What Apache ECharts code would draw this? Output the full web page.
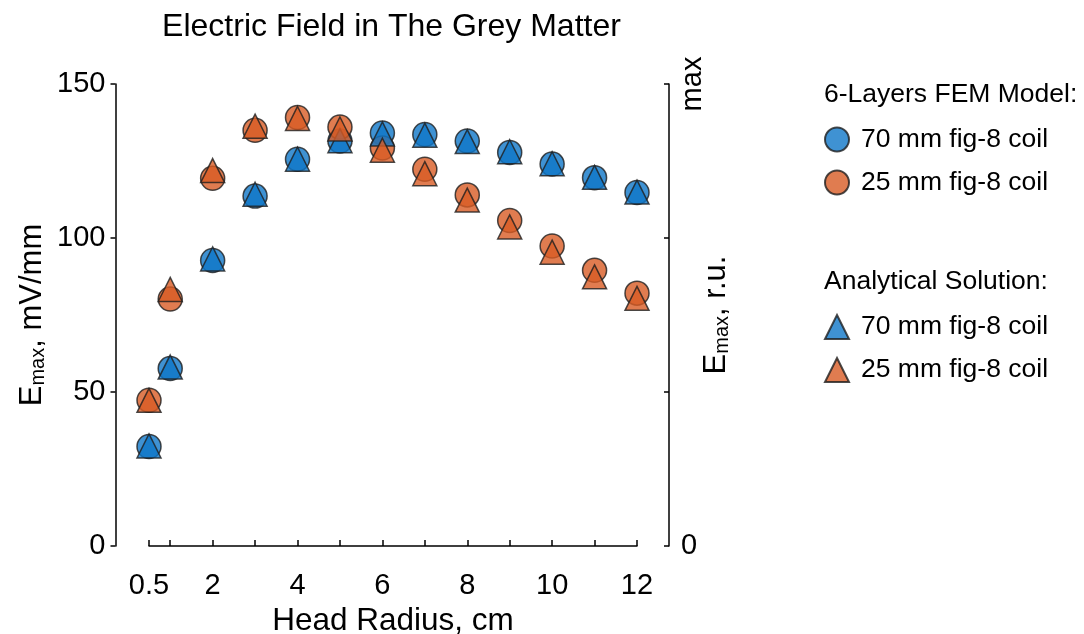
<!DOCTYPE html>
<html>
<head>
<meta charset="utf-8">
<script src="https://cdn.jsdelivr.net/npm/echarts@6/dist/echarts.min.js"></script>
<style>html,body{margin:0;padding:0;background:#fff}#c{width:1084px;height:634px}</style>
</head>
<body>
<div id="c"></div>
<script>
// Head radius (cm)
const radius = [0.5, 1, 2, 3, 4, 5, 6, 7, 8, 9, 10, 11, 12];
// 6-Layers FEM Model, Emax (mV/mm)
const fem70 = [32.3, 57.6, 92.7, 113.6, 125.6, 131.5, 134.1, 133.6, 131.5, 127.8, 124.0, 119.6, 114.8];
const fem25 = [47.3, 80.2, 119.4, 135.0, 139.1, 136.0, 129.2, 122.3, 114.0, 105.7, 97.4, 89.5, 82.1];
// Analytical solution, Emax (mV/mm)
const ana70 = [32.5, 58.1, 93.2, 114.2, 125.6, 131.6, 133.8, 133.4, 131.3, 128.0, 124.1, 119.7, 114.9];
const ana25 = [47.3, 83.3, 121.9, 136.3, 138.8, 135.4, 128.5, 120.9, 112.3, 103.6, 95.4, 87.4, 80.4];
// Tick values / labels
const xTicks = [0.5, 1, 2, 3, 4, 5, 6, 7, 8, 9, 10, 11, 12];
const xLabels = [0.5, 2, 4, 6, 8, 10, 12];
const seriesNames = ['70 mm fig-8 coil', '25 mm fig-8 coil'];

const FONT = 'Liberation Sans, Arial, Helvetica, sans-serif';
const BLUE = 'rgba(15,119,200,0.8)';
const ORANGE = 'rgba(216,91,36,0.8)';
const EDGE = 'rgba(30,30,30,0.8)';

const zip = (xs, ys) => xs.map((x, i) => [x, ys[i]]);
const mk = (id, name, data, symbol, color) => ({
  id, name, type: 'scatter', data: zip(radius, data),
  symbol, symbolSize: 24,
  itemStyle: { color, borderColor: EDGE, borderWidth: 1.5, opacity: 1 },
  emphasis: { disabled: true }, z: 3
});

const chart = echarts.init(document.getElementById('c'), null, { renderer: 'canvas' });
const legendText = {
  color: '#000', fontFamily: FONT, fontSize: 26.5,
  rich: { t: { fontFamily: FONT, fontSize: 26.5, color: '#000', lineHeight: 26, padding: [0, 0, 0, 7] } }
};
chart.setOption({
  animation: false,
  backgroundColor: '#fff',
  textStyle: { fontFamily: FONT },
  title: [
    { text: 'Electric Field in The Grey Matter', left: 391.5, textAlign: 'center', top: 11, padding: 0,
      textStyle: { fontFamily: FONT, fontSize: 32, fontWeight: 'normal', color: '#000' } },
    { text: '6-Layers FEM Model:', left: 824, top: 81.5, padding: 0,
      textStyle: { fontFamily: FONT, fontSize: 26.5, fontWeight: 'normal', color: '#000', lineHeight: 27 } },
    { text: 'Analytical Solution:', left: 824, top: 268.5, padding: 0,
      textStyle: { fontFamily: FONT, fontSize: 26.5, fontWeight: 'normal', color: '#000', lineHeight: 27 } }
  ],
  legend: [
    { orient: 'vertical', left: 824, top: 126, padding: 0, itemGap: 16, itemWidth: 24, itemHeight: 24,
      data: [{ name: 'FEM70', icon: 'circle' }, { name: 'FEM25', icon: 'circle' }],
      formatter: (n) => '{t|' + (n === 'FEM70' ? seriesNames[0] : seriesNames[1]) + '}',
      textStyle: legendText, selectedMode: false },
    { orient: 'vertical', left: 824, top: 313.5, padding: 0, itemGap: 16, itemWidth: 24, itemHeight: 24,
      data: [{ name: 'ANA70', icon: 'triangle' }, { name: 'ANA25', icon: 'triangle' }],
      formatter: (n) => '{t|' + (n === 'ANA70' ? seriesNames[0] : seriesNames[1]) + '}',
      textStyle: legendText, selectedMode: false }
  ],
  grid: { left: 149, right: 447, top: 84, bottom: 88, outerBoundsMode: 'none', containLabel: false },
  xAxis: {
    type: 'value', min: 0.5, max: 12, offset: 12,
    name: 'Head Radius, cm', nameLocation: 'middle', nameGap: 46,
    nameTextStyle: { fontFamily: FONT, fontSize: 31.5, color: '#000' },
    axisLine: { show: true, lineStyle: { color: '#000', width: 1.5 } },
    axisTick: { show: true, inside: true, length: 6, customValues: xTicks, lineStyle: { color: '#000', width: 1.5 } },
    axisLabel: { customValues: xLabels, fontFamily: FONT, fontSize: 29, color: '#000', margin: 13 },
    splitLine: { show: false }
  },
  yAxis: [
    { type: 'value', min: 0, max: 150, interval: 50, position: 'left', offset: 33.5,
      name: '{a|E}{b|max}{a|, mV/mm}', nameLocation: 'middle', nameGap: 67, nameRotate: 90,
      nameTextStyle: { rich: {
        a: { fontFamily: FONT, fontSize: 31, color: '#000', lineHeight: 32 },
        b: { fontFamily: FONT, fontSize: 20, color: '#000', lineHeight: 16, verticalAlign: 'bottom' } } },
      axisLine: { show: true, lineStyle: { color: '#000', width: 1.5 } },
      axisTick: { show: true, inside: false, length: 5, lineStyle: { color: '#000', width: 1.5 } },
      axisLabel: { fontFamily: FONT, fontSize: 29, color: '#000', margin: 10 },
      splitLine: { show: false } },
    { type: 'value', min: 0, max: 150, interval: 50, position: 'right', offset: 32,
      name: '{a|E}{b|max}{a|, r.u.}', nameLocation: 'middle', nameGap: 30, nameRotate: 90,
      nameTextStyle: { rich: {
        a: { fontFamily: FONT, fontSize: 31, color: '#000', lineHeight: 32 },
        b: { fontFamily: FONT, fontSize: 20, color: '#000', lineHeight: 16, verticalAlign: 'bottom' } } },
      axisLine: { show: true, lineStyle: { color: '#000', width: 1.5 } },
      axisTick: { show: true, inside: true, length: 5, lineStyle: { color: '#000', width: 1.5 } },
      axisLabel: { fontFamily: FONT, fontSize: 29, color: '#000', margin: 12,
        formatter: (v) => (v === 0 ? '0' : '') },
      splitLine: { show: false } },
    { type: 'value', min: 0, max: 150, interval: 50, position: 'right', offset: 32,
      axisLine: { show: false }, axisTick: { show: false },
      axisLabel: { fontFamily: FONT, fontSize: 29, color: '#000', margin: 9, rotate: 90,
        formatter: (v) => (v === 150 ? 'max' : '') },
      splitLine: { show: false } }
  ],
  series: [
    mk('f70', 'FEM70', fem70, 'circle', BLUE),
    mk('f25', 'FEM25', fem25, 'circle', ORANGE),
    mk('a70', 'ANA70', ana70, 'triangle', BLUE),
    mk('a25', 'ANA25', ana25, 'triangle', ORANGE)
  ]
});
</script>
</body>
</html>
